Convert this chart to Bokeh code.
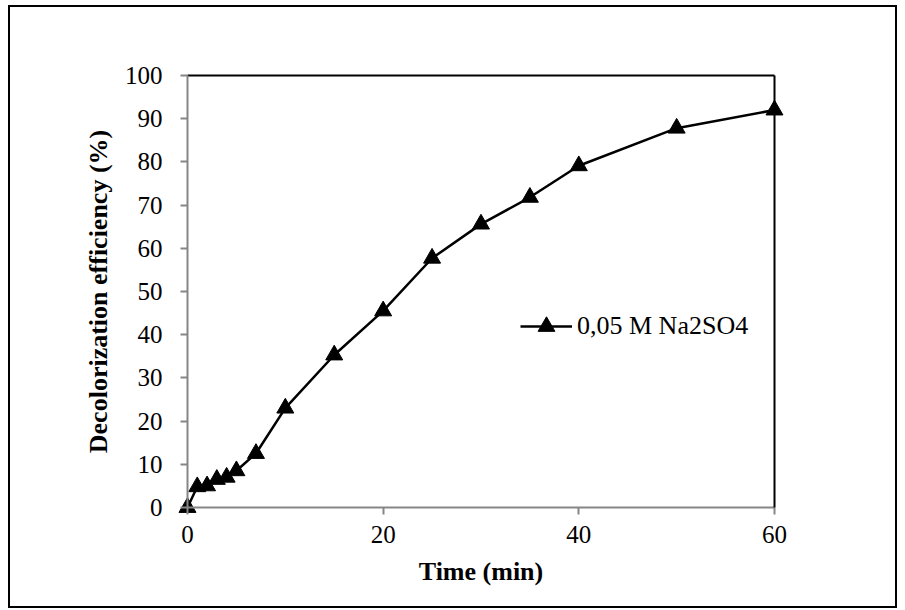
from bokeh.plotting import figure
from bokeh.models import LinearAxis, Legend, LegendItem, FixedTicker, Range1d
from bokeh.embed import file_html
from bokeh.resources import INLINE

time_min = [0, 1, 2, 3, 4, 5, 7, 10, 15, 20, 25, 30, 35, 40, 50, 60]
efficiency = [0, 4.8, 5.0, 6.5, 7.0, 8.5, 12.5, 23.0, 35.3, 45.5, 57.7, 65.6, 71.8, 79.1, 87.8, 92.0]
series_name = "0,05 M Na2SO4"
x_ticks = [0, 20, 40, 60]
y_ticks = [0, 10, 20, 30, 40, 50, 60, 70, 80, 90, 100]

FONT = "Liberation Serif"
GRAY = "#868686"

p = figure(frame_width=885, frame_height=599,
           x_range=Range1d(-18.09, 72.37), y_range=Range1d(-22.92, 115.74),
           output_backend="svg", toolbar_location=None,
           min_border=0,
           x_axis_label="Time (min)", y_axis_label="Decolorization efficiency (%)",
           margin=(5, 0, 0, 8),
           styles={"border": "2px solid black"})
p.outline_line_color = None
p.grid.visible = False
p.background_fill_color = "white"
p.border_fill_color = "white"

for ax, ticks in ((p.xaxis[0], x_ticks), (p.yaxis[0], y_ticks)):
    ax.ticker = FixedTicker(ticks=ticks)
    ax.axis_line_color = GRAY
    ax.axis_line_width = 2
    ax.major_tick_line_color = GRAY
    ax.major_tick_line_width = 2
    ax.major_tick_out = 7
    ax.major_tick_in = 0
    ax.minor_tick_line_color = None
    ax.major_label_text_font = FONT
    ax.major_label_text_font_size = "25px"
    ax.major_label_text_color = "black"
    ax.axis_label_text_font = FONT
    ax.axis_label_text_font_size = "26px"
    ax.axis_label_text_font_style = "bold"
    ax.axis_label_text_color = "black"

p.xaxis[0].fixed_location = 0
p.xaxis[0].bounds = (0, 60)
p.yaxis[0].fixed_location = 0
p.yaxis[0].bounds = (0, 100)

p.xaxis[0].major_label_standoff = 12
p.xaxis[0].axis_label_standoff = 10
p.yaxis[0].major_label_standoff = 18
p.yaxis[0].axis_label_standoff = 9

for side, loc, bnds in (("above", 100, (0, 60)), ("right", 60, (0, 100))):
    a = LinearAxis(ticker=FixedTicker(ticks=[]), axis_line_color="black", axis_line_width=2,
                   major_tick_line_color=None, minor_tick_line_color=None,
                   major_label_text_font_size="0px",
                   fixed_location=loc, bounds=bnds)
    p.add_layout(a, side)

ln = p.line(time_min, efficiency, line_color="black", line_width=2.5)
mk = p.scatter(time_min, efficiency, marker="triangle", size=17,
               fill_color="black", line_color="black")

legend = Legend(items=[LegendItem(label=series_name, renderers=[ln, mk])],
                location=(510, 259), orientation="vertical",
                glyph_width=52, glyph_height=42, label_height=42,
                label_standoff=5, padding=0, margin=0, spacing=0,
                border_line_color=None, background_fill_alpha=0,
                label_text_font=FONT, label_text_font_size="26px",
                label_text_color="black")
p.add_layout(legend, "center")

open("out.html", "w").write(file_html(p, INLINE))
